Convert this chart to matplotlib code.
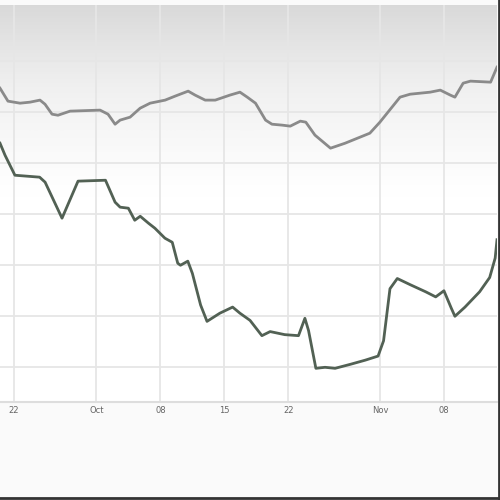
import matplotlib
matplotlib.use('Agg')
import matplotlib.pyplot as plt
from matplotlib.lines import Line2D
import numpy as np
import pandas as pd

start = pd.Timestamp('2012-09-22')

# upper series (grey): day offset from Sep 22, % change
upper_days = [-1.53, -0.66, 0.66, 1.75, 2.84, 3.39, 4.16, 4.81, 6.13, 9.41, 10.28, 11.05,
              11.6, 12.69, 13.79, 14.88, 16.52, 17.61, 19.04, 19.8, 20.9, 22.0, 23.6, 24.7,
              25.5, 26.4, 27.5, 28.2, 29.3, 30.2, 31.3, 31.9, 32.9, 34.6, 36.2, 38.9, 40.0,
              41.5, 42.2, 43.3, 45.5, 46.6, 47.7, 48.2, 49.1, 49.9, 52.1, 52.8]
upper_vals = [7.35, 6.08, 5.88, 5.98, 6.18, 5.78, 4.8, 4.7, 5.1, 5.2, 4.8, 3.82,
              4.22, 4.51, 5.39, 5.88, 6.18, 6.57, 7.06, 6.67, 6.18, 6.18, 6.67, 6.96,
              6.47, 5.88, 4.22, 3.82, 3.73, 3.63, 4.12, 4.02, 2.75, 1.47, 1.96, 2.94, 4.02,
              5.69, 6.47, 6.76, 6.96, 7.16, 6.67, 6.47, 7.84, 8.04, 7.94, 9.41]

# lower series (dark green-grey)
lower_days = [-1.53, -0.98, 0.1, 2.8, 3.4, 5.25, 7.0, 10.0, 11.05, 11.6, 12.5, 13.2,
              13.8, 14.7, 15.4, 16.5, 17.3, 17.9, 18.2, 19.0, 19.5, 20.4, 21.1, 22.5,
              23.9, 24.7, 25.8, 27.1, 28.0, 29.6, 31.1, 31.8, 32.2, 33.0, 34.0, 35.1,
              36.8, 38.4, 39.8, 40.4, 41.1, 41.9, 43.3, 45.0, 46.1, 47.0, 47.8, 48.2,
              49.3, 50.9, 52.0, 52.6, 52.8]
lower_vals = [1.96, 0.78, -1.18, -1.37, -1.86, -5.39, -1.76, -1.67, -3.82, -4.31, -4.41, -5.59,
              -5.2, -5.88, -6.37, -7.35, -7.75, -9.8, -10.0, -9.6, -10.8, -13.9, -15.5, -14.7,
              -14.1, -14.7, -15.4, -16.9, -16.5, -16.8, -16.9, -15.2, -16.4, -20.1, -20.0, -20.1,
              -19.7, -19.3, -18.9, -17.4, -12.3, -11.3, -11.9, -12.6, -13.1, -12.5, -14.2, -15.0,
              -14.1, -12.6, -11.2, -9.3, -7.5]

tick_days = [0, 9, 16, 23, 30, 40, 47]
tick_labels = ['22', 'Oct', '08', '15', '22', 'Nov', '08']
grid_vals = [-20, -15, -10, -5, 0, 5, 10]

to_dates = lambda d: start + pd.to_timedelta(np.array(d), unit='D')

fig = plt.figure(figsize=(5, 5), dpi=100, facecolor='#fafafa')
ax = fig.add_axes([0, 0.196, 0.994, 0.794])
ax.set_facecolor('white')

x0, x1 = to_dates([-1.53, 52.8])
ax.set_xlim(x0, x1)
ax.set_ylim(-23.4, 15.5)

# grey gradient at the top
grad = np.linspace(0, 1, 256).reshape(-1, 1)
grad = np.clip((grad - 0.5) / 0.5, 0, 1) ** 1.3
ax.imshow(grad, cmap='Greys', vmin=0, vmax=4, aspect='auto', origin='lower',
          extent=(0, 1, 0, 1), transform=ax.transAxes, zorder=0)

for v in grid_vals:
    ax.axhline(v, color='#e6e6e6', lw=1.3, zorder=1)
for d in tick_days:
    ax.axvline(to_dates([d])[0], color='#e6e6e6', lw=1.3, zorder=1)

ax.plot(to_dates(upper_days), upper_vals, color='#8a8a8a', lw=2, zorder=3)
ax.plot(to_dates(lower_days), lower_vals, color='#526154', lw=2, zorder=3)

ax.set_xticks(to_dates(tick_days))
ax.set_xticklabels(tick_labels, fontsize=6, color='#666666')
ax.tick_params(axis='x', length=0, pad=3)
ax.set_yticks([])
for s in ['top', 'left', 'right']:
    ax.spines[s].set_visible(False)
ax.spines['bottom'].set_color('#dddddd')
ax.spines['bottom'].set_linewidth(1.5)

# dark frame on right and bottom edge
fig.add_artist(Line2D([0.997, 0.997], [0, 1], color='#333333', lw=2, transform=fig.transFigure))
fig.add_artist(Line2D([0, 1], [0.004, 0.004], color='#333333', lw=2, transform=fig.transFigure))

fig.savefig('out.png', dpi=100, facecolor=fig.get_facecolor())
